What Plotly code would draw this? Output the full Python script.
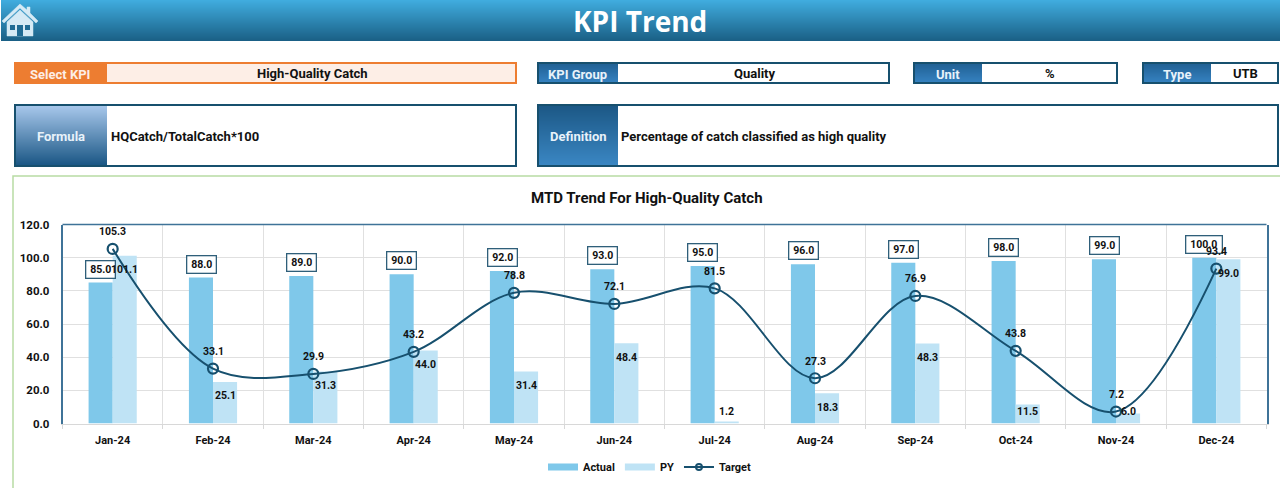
import plotly.graph_objects as go

W, H = 1280, 488
FONT = "Roboto"

months = ["Jan-24", "Feb-24", "Mar-24", "Apr-24", "May-24", "Jun-24",
          "Jul-24", "Aug-24", "Sep-24", "Oct-24", "Nov-24", "Dec-24"]
actual = [85.0, 88.0, 89.0, 90.0, 92.0, 93.0, 95.0, 96.0, 97.0, 98.0, 99.0, 100.0]
py = [101.1, 25.1, 31.3, 44.0, 31.4, 48.4, 1.2, 18.3, 48.3, 11.5, 6.0, 99.0]
target = [105.3, 33.1, 29.9, 43.2, 78.8, 72.1, 81.5, 27.3, 76.9, 43.8, 7.2, 93.4]
y_ticks = [0, 20, 40, 60, 80, 100, 120]


def px(x):
    return x / W


def py_(y):
    return 1 - y / H


def blend(c1, c2, t):
    return "rgb(%d,%d,%d)" % tuple(round(a + (b - a) * t) for a, b in zip(c1, c2))


shapes = []
annotations = []


def rect(x0, y0, x1, y1, fill, line=None, lw=0):
    shapes.append(dict(type="rect", xref="paper", yref="paper", layer="below",
                       x0=px(x0), x1=px(x1), y0=py_(y0), y1=py_(y1), fillcolor=fill,
                       line=dict(color=line or fill, width=lw)))


def box(x0, y0, x1, y1, fill, line):
    # 2px outline drawn inside the given outer edges
    rect(x0 + 1, y0 + 1, x1 - 1, y1 - 1, fill, line, 2)


def gradient(x0, y0, x1, y1, top, bottom):
    # plotly shapes have no gradient fill, so stack one pixel strips
    steps = y1 - y0
    for i in range(steps):
        rect(x0, y0 + i, x1, y0 + i + 1, blend(top, bottom, i / (steps - 1)))


def label(x, y, text, size=13, color="#111111", anchor="center", font=FONT):
    annotations.append(dict(xref="paper", yref="paper", x=px(x), y=py_(y), text=f"<b>{text}</b>",
                            showarrow=False, xanchor=anchor, yanchor="middle",
                            font=dict(size=size, color=color, family=font)))


def polygon(points, fill):
    d = "M" + " L".join(f"{px(x):.5f},{py_(y):.5f}" for x, y in points) + " Z"
    shapes.append(dict(type="path", xref="paper", yref="paper", layer="below", path=d,
                       fillcolor=fill, line=dict(color=fill, width=0.5)))


DARK = "#17506e"
ICON = "#d5eaf5"

# header band
gradient(1, 0, W, 41, (64, 172, 222), (26, 96, 134))
label(640, 21, "KPI Trend", size=28, color="white", font="Open Sans")

# house icon
polygon([(2, 21), (20, 4), (27, 10), (27, 7), (30, 7), (30, 13), (38, 21), (36, 23), (20, 8), (4, 23)], ICON)
polygon([(7, 36), (7, 22), (20, 10), (33, 22), (33, 36)], ICON)
rect(10, 25, 15, 30, "#1f6b94")
rect(25, 25, 30, 30, "#1f6b94")
rect(17, 25, 23, 36, "#1f6b94")

# KPI selector row
box(14, 62, 517, 84, "#fdeee6", "#ed7d31")
rect(14, 62, 107, 84, "#ed7d31")
label(60, 74, "Select KPI", color="#fdeee6")
label(312, 73, "High-Quality Catch")

blue_boxes = [
    (537, 618, 890, "KPI Group", "Quality"),
    (913, 982, 1118, "Unit", "%"),
    (1142, 1211, 1279, "Type", "UTB"),
]
for x0, xm, x1, name, value in blue_boxes:
    box(x0, 62, x1, 84, "white", DARK)
    gradient(x0 + 2, 64, xm, 82, (34, 98, 150), (52, 128, 190))
    label((x0 + xm) / 2, 74, name, color="#e8f2fa")
    label((xm + x1) / 2, 73, value)

# formula and definition row
box(14, 104, 517, 167, "white", DARK)
gradient(16, 106, 107, 165, (166, 198, 234), (28, 88, 134))
label(61, 136, "Formula", color="#e8f2fa")
label(109, 136, "HQCatch/TotalCatch*100", anchor="left")

box(537, 104, 1279, 167, "white", DARK)
gradient(539, 106, 618, 165, (28, 88, 134), (58, 134, 194))
label(578, 136, "Definition", color="#e8f2fa")
label(619, 136, "Percentage of catch classified as high quality", anchor="left")

# chart panel
rect(13, 176, W + 4, H + 4, "white", "#b8dca4", 1.5)
label(647, 198, "MTD Trend For High-Quality Catch", size=15)

fig = go.Figure()
fig.add_trace(go.Bar(x=months, y=actual, name="Actual", showlegend=False,
                     marker=dict(color="#7fc8ea", line_width=0)))
fig.add_trace(go.Bar(x=months, y=py, name="PY", showlegend=False,
                     marker=dict(color="#bfe3f5", line_width=0)))
fig.add_trace(go.Scatter(x=months, y=target, name="Target", mode="lines+markers", showlegend=False,
                         line=dict(color=DARK, width=2, shape="spline", smoothing=1.0),
                         marker=dict(symbol="circle-open", size=10, color=DARK,
                                     line=dict(color=DARK, width=2.2))))

# empty traces: the legend keys in the reference are wide strips, not plotly's small squares
fig.add_trace(go.Scatter(x=[None], y=[None], name="Actual", mode="lines",
                         line=dict(color="#7fc8ea", width=7)))
fig.add_trace(go.Scatter(x=[None], y=[None], name="PY", mode="lines",
                         line=dict(color="#bfe3f5", width=7)))
fig.add_trace(go.Scatter(x=[None], y=[None], name="Target", mode="lines+markers",
                         line=dict(color=DARK, width=2),
                         marker=dict(symbol="circle-open", size=6, color=DARK,
                                     line=dict(color=DARK, width=2))))

LABEL_FONT = dict(size=10.5, color="#111111", family=FONT)
BAR_PX = 24
PX_PER_UNIT = 199 / 120

for m, v in zip(months, actual):
    text = f"{v:.1f}"
    annotations.append(dict(x=m, y=v, text=f"<b>{text}</b>", showarrow=False, xshift=-BAR_PX / 2,
                            yshift=13.5, font=LABEL_FONT, yanchor="middle", bgcolor="white",
                            bordercolor="#2f5f7a", borderwidth=1.3, borderpad=1,
                            width=6.2 * len(text) + 2, height=14))
for m, v in zip(months, py):
    # low bars: the label stays just above the axis
    annotations.append(dict(x=m, y=v, text=f"<b>{v:.1f}</b>", showarrow=False, xshift=BAR_PX / 2,
                            yshift=max(-14, 12 - v * PX_PER_UNIT), font=LABEL_FONT, yanchor="middle"))
for m, v in zip(months, target):
    annotations.append(dict(x=m, y=v, text=f"<b>{v:.1f}</b>", showarrow=False, yshift=17,
                            font=LABEL_FONT, yanchor="middle"))

# top edge of the plot frame
shapes.append(dict(type="line", xref="x domain", yref="y domain", x0=0, x1=1, y0=1, y1=1,
                   line=dict(color="#3f7398", width=1.5), layer="above"))

fig.update_layout(
    width=W, height=H, autosize=False,
    margin=dict(l=0, r=0, t=0, b=0, autoexpand=False),
    paper_bgcolor="white", plot_bgcolor="white",
    barmode="group", bargap=0.52, bargroupgap=0,
    shapes=shapes, annotations=annotations,
    showlegend=True,
    legend=dict(orientation="h", xanchor="center", x=px(650),
                yanchor="middle", y=py_(467), itemwidth=30,
                font=dict(size=11, color="#111111", family=FONT, weight="bold"),
                bgcolor="rgba(0,0,0,0)"),
    xaxis=dict(domain=[px(62.5), px(1266.5)], range=[-0.5, 11.5], tickson="boundaries", type="category",
               showgrid=True, gridcolor="#e0e0e0", gridwidth=1.2,
               showline=True, linecolor="#d8d8d8", ticks="outside", ticklen=4, tickcolor="#d8d8d8",
               ticklabelstandoff=6,
               tickfont=dict(size=11, color="#111111", family=FONT, weight="bold")),
    yaxis=dict(domain=[py_(423.5), py_(224.5)], range=[0, 120], tickvals=y_ticks, tickformat=".1f",
               showgrid=True, gridcolor="#e0e0e0", gridwidth=1.2, zeroline=False,
               showline=True, linecolor="#3f7398", linewidth=1.5, mirror=True, ticks="",
               ticklabelstandoff=9,
               tickfont=dict(size=11.5, color="#111111", family=FONT, weight="bold")),
)

fig.write_html("out.html", config=dict(displayModeBar=False),
               post_script="document.body.style.margin='0';document.body.style.overflow='hidden';")
